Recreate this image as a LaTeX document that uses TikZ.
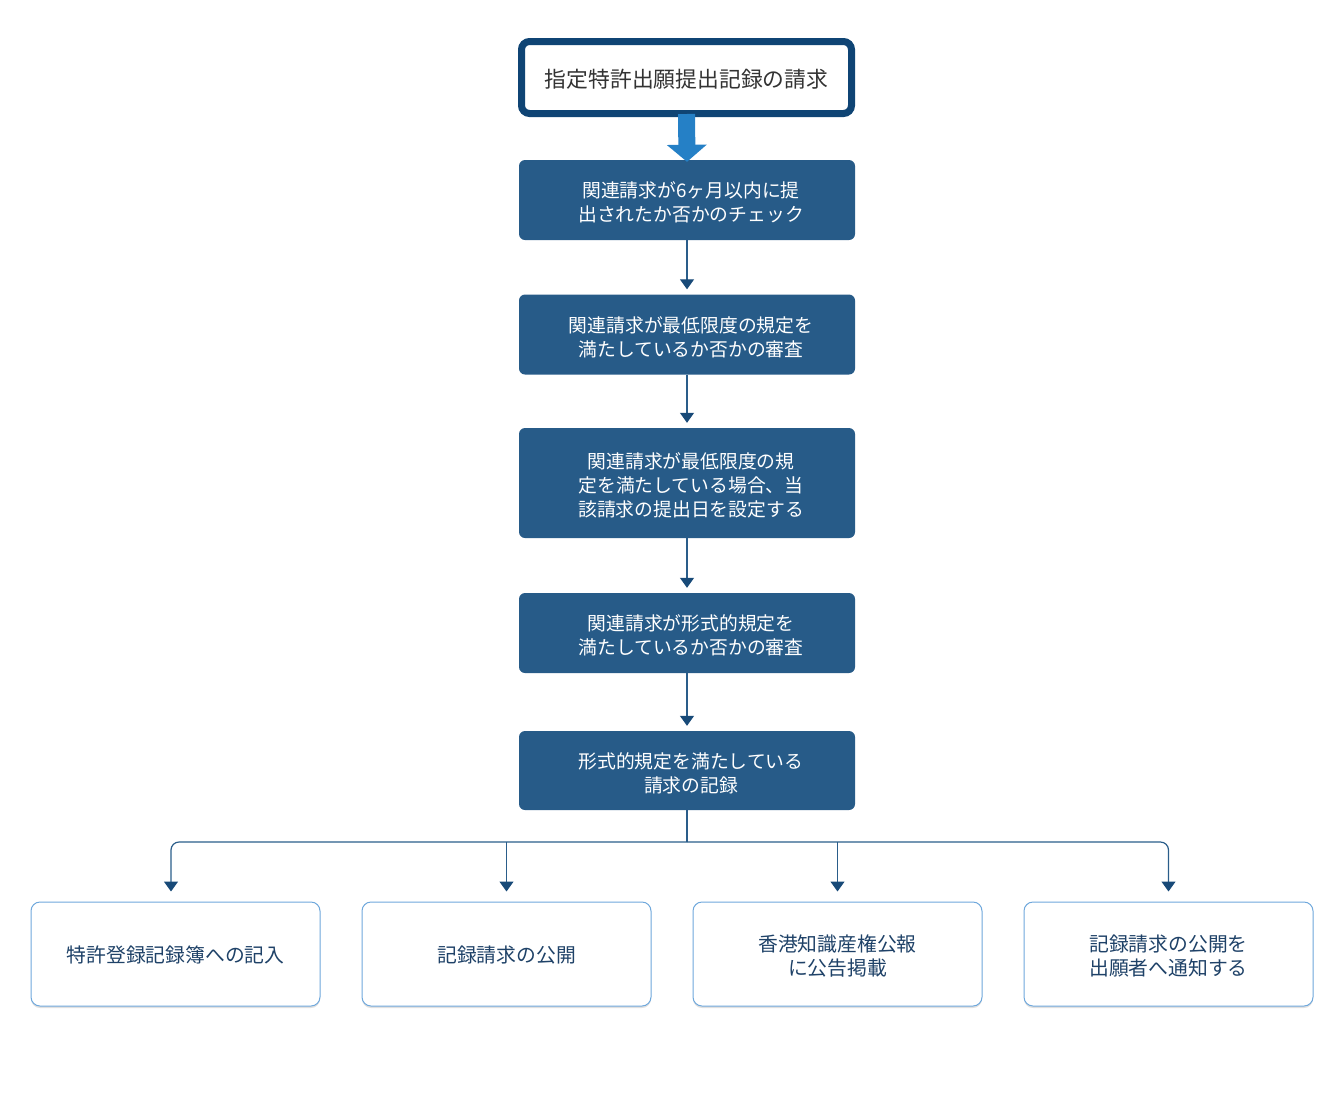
\documentclass[tikz,border=0pt]{standalone}
\usepackage{fontspec}
\setmainfont{Noto Sans CJK JP}
\usetikzlibrary{arrows.meta,shadows}
\definecolor{navy}{HTML}{0F4474}
\definecolor{boxfill}{HTML}{275B88}
\definecolor{bigarrow}{HTML}{2580C6}
\definecolor{conncol}{HTML}{2A5D8A}
\definecolor{headcol}{HTML}{184A78}
\definecolor{lightborder}{HTML}{6FA8DC}
\definecolor{btext}{HTML}{1F4268}
\newcommand{\lowerby}[2]{\raisebox{-#1}[\height][\depth]{#2}}
\newcommand{\steptext}[1]{\lowerby{5pt}{\begin{tabular}{@{}c@{}}#1\end{tabular}}}
\tikzset{
  topbox/.style={draw=navy, line width=7pt, rounded corners=8pt, fill=white,
    minimum width=330pt, minimum height=72pt, inner sep=0pt,
    font=\fontsize{21.8}{26}\selectfont, text=black!80},
  stepbox/.style={fill=boxfill, rounded corners=6pt, minimum width=336pt,
    inner sep=0pt, align=center, text=white,
    font=\fontsize{18.8}{24}\selectfont},
  endbox/.style={draw=lightborder, line width=1pt, fill=white, rounded corners=9pt,
    minimum width=289pt, minimum height=104pt, inner sep=0pt, align=center,
    text=btext, font=\fontsize{19.8}{24}\selectfont,
    drop shadow={shadow xshift=0pt, shadow yshift=-2pt, opacity=0.12, fill=black}},
  conn/.style={draw=conncol, line width=1.2pt,
    -{Triangle[width=14pt,length=10pt,color=headcol]}},
  plain/.style={draw=conncol, line width=1.2pt}
}
\begin{document}
\begin{tikzpicture}[x=1pt,y=-1pt]
\useasboundingbox (0,0) rectangle (1336,1112);
\node[topbox] (t) at (686.5,77.5) {\lowerby{2pt}{指定特許出願提出記録の請求}};
\node[stepbox, minimum height=80pt] (b2) at (687,200) {\steptext{\hspace*{8pt}関連請求が6ヶ月以内に提\\\hspace*{8pt}出されたか否かのチェック}};
\node[stepbox, minimum height=80pt] (b3) at (687,334.5) {\steptext{\hspace*{8pt}関連請求が最低限度の規定を\\\hspace*{8pt}満たしているか否かの審査}};
\node[stepbox, minimum height=110pt] (b4) at (687,483) {\steptext{\hspace*{8pt}関連請求が最低限度の規\\\hspace*{8pt}定を満たしている場合、当\\\hspace*{8pt}該請求の提出日を設定する}};
\node[stepbox, minimum height=80pt] (b5) at (687,633) {\steptext{\hspace*{8pt}関連請求が形式的規定を\\\hspace*{8pt}満たしているか否かの審査}};
\node[stepbox, minimum height=79pt] (b6) at (687,770.5) {\steptext{\hspace*{8pt}形式的規定を満たしている\\\hspace*{8pt}請求の記録}};
\node[endbox] (c1) at (175.5,954) {\lowerby{1pt}{特許登録記録簿への記入}};
\node[endbox] (c2) at (506.5,954) {\lowerby{1pt}{記録請求の公開}};
\node[endbox] (c3) at (837.5,954) {\lowerby{5pt}{\begin{tabular}{@{}c@{}}香港知識産権公報\\に公告掲載\end{tabular}}};
\node[endbox] (c4) at (1168.5,954) {\lowerby{5pt}{\begin{tabular}{@{}c@{}}記録請求の公開を\\出願者へ通知する\end{tabular}}};
% big arrow
\draw[draw=bigarrow, line width=17pt, -{Triangle[width=39pt,length=17pt,color=bigarrow]}]
  ([yshift=3pt]t.south) -- ([yshift=-2pt]b2.north);
% step arrows
\draw[conn, shorten >=5pt] (b2.south) -- (b3.north);
\draw[conn, shorten >=5pt] (b3.south) -- (b4.north);
\draw[conn, shorten >=5pt] (b4.south) -- (b5.north);
\draw[conn, shorten >=5pt] (b5.south) -- (b6.north);
% branch
\coordinate (j) at (687,842);
\draw[plain] (b6.south) -- (j);
\draw[conn, rounded corners=8pt, shorten >=10pt] (j) -| ([xshift=-4.5pt]c1.north);
\draw[conn, rounded corners=8pt, shorten >=10pt] (j) -| (c4.north);
\draw[conn, shorten >=10pt] (j -| c2.north) -- (c2.north);
\draw[conn, shorten >=10pt] (j -| c3.north) -- (c3.north);
\end{tikzpicture}
\end{document}
